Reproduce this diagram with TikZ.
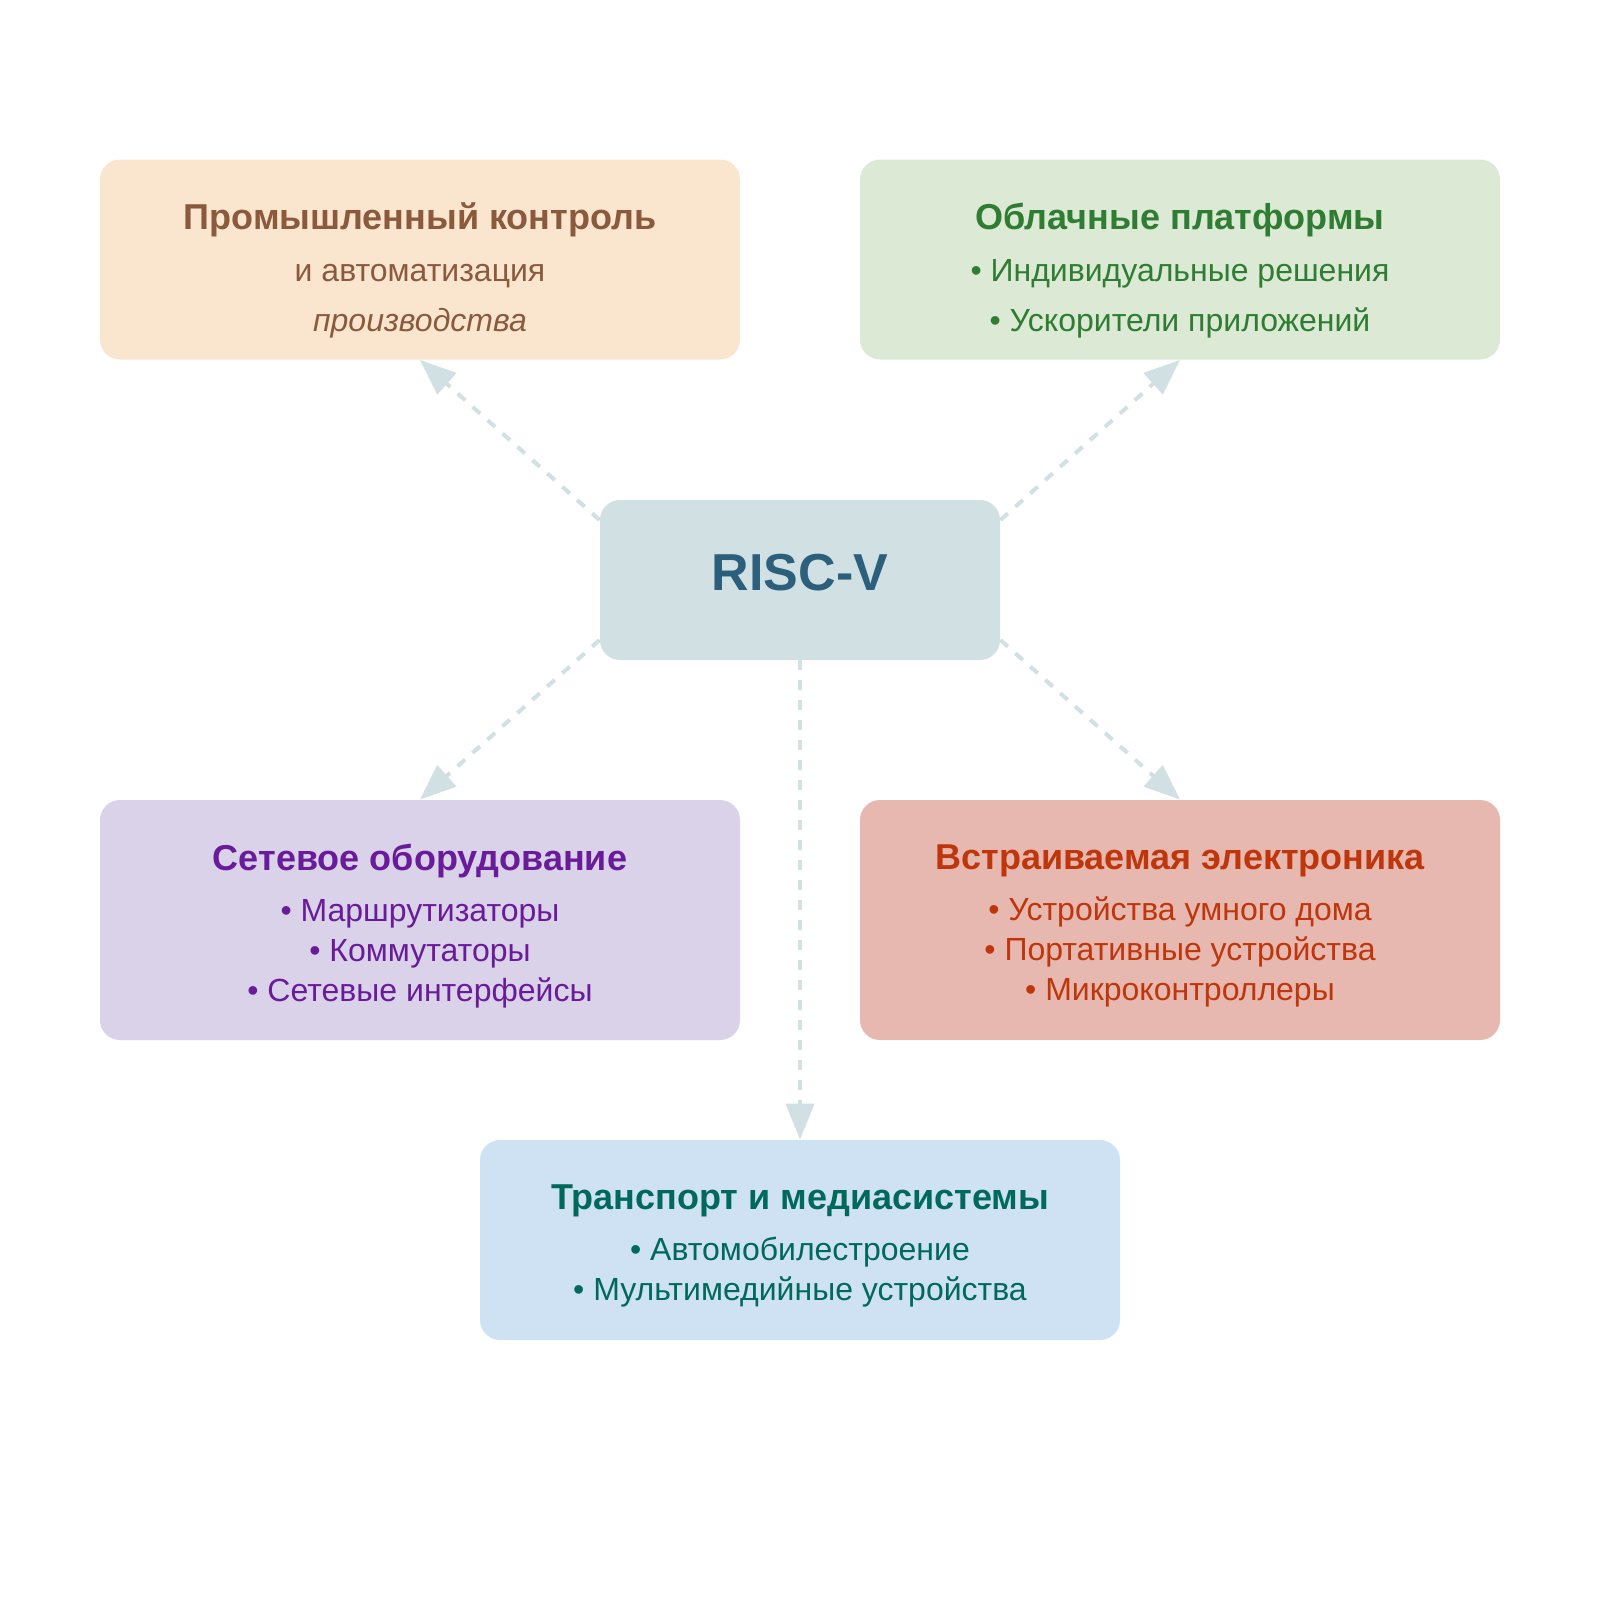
\documentclass[tikz,border=0pt]{standalone}
\usepackage{fontspec}
\setmainfont{Liberation Sans}
\usetikzlibrary{arrows.meta,calc}
\definecolor{peachfill}{HTML}{FAE5CF}
\definecolor{peachtext}{HTML}{8B5A3C}
\definecolor{greenfill}{HTML}{DCE9D5}
\definecolor{greentext}{HTML}{2E7D32}
\definecolor{corefill}{HTML}{D0E0E3}
\definecolor{coretext}{HTML}{2C5F7C}
\definecolor{purplefill}{HTML}{D9D2E9}
\definecolor{purpletext}{HTML}{6A1B9A}
\definecolor{redfill}{HTML}{E6B8AF}
\definecolor{redtext}{HTML}{BF360C}
\definecolor{bluefill}{HTML}{CFE2F3}
\definecolor{tealtext}{HTML}{00695C}
\definecolor{linkcol}{HTML}{D0E0E3}
\begin{document}
\begin{tikzpicture}[x=0.5pt,y=-0.5pt,
  box/.style={rounded corners=10pt, minimum width=320pt, minimum height=100pt,
    inner sep=0pt, draw=none},
  midbox/.style={box, minimum height=120pt},
  corebox/.style={box, minimum width=200pt, minimum height=80pt},
  toptext/.style={align=center, inner sep=0pt, font=\fontsize{16}{25}\selectfont},
  bodytext/.style={align=center, inner sep=0pt, font=\fontsize{16}{20}\selectfont},
  link/.style={draw=linkcol, line width=2pt, dash pattern=on 5pt off 5pt,
    -{Triangle[width=14pt,length=18pt]}}]
\useasboundingbox (0,0) rectangle (1600,1600);

\node[box, fill=peachfill] (ind) at (420,259.5) {};
\node[toptext, text=peachtext] (indtxt) at ($(ind)+(0,11)$)
  {{\fontsize{18}{22}\selectfont\bfseries Промышленный контроль}\\[1pt]
   и автоматизация\\ \textit{производства}};
\node[box, fill=greenfill] (cloud) at (1180,259.5) {};
\node[toptext, text=greentext] (cloudtxt) at ($(cloud)+(0,11)$)
  {{\fontsize{18}{22}\selectfont\bfseries Облачные платформы}\\[1pt]
   • Индивидуальные решения\\ • Ускорители приложений};
\node[corebox, fill=corefill, text=coretext, font=\fontsize{26}{30}\selectfont\bfseries,
  text height=18.6pt, text depth=8pt] (core) at (800,580) {RISC-V};
\node[midbox, fill=purplefill] (net) at (420,920) {};
\node[bodytext, text=purpletext] (nettxt) at ($(net)+(0,6)$)
  {{\fontsize{18}{22}\selectfont\bfseries Сетевое оборудование}\\[5.5pt]
   • Маршрутизаторы\\ • Коммутаторы\\ • Сетевые интерфейсы};
\node[midbox, fill=redfill] (emb) at (1180,920) {};
\node[bodytext, text=redtext] (embtxt) at ($(emb)+(0,6)$)
  {{\fontsize{18}{22}\selectfont\bfseries Встраиваемая электроника}\\[5.5pt]
   • Устройства умного дома\\ • Портативные устройства\\ • Микроконтроллеры};
\node[box, fill=bluefill] (trans) at (800,1240) {};
\node[bodytext, text=tealtext] (transtxt) at ($(trans)+(0,6)$)
  {{\fontsize{18}{22}\selectfont\bfseries Транспорт и медиасистемы}\\[5.5pt]
   • Автомобилестроение\\ • Мультимедийные устройства};

\draw[link] ($(core.west)+(0,-60)$) -- (ind.south);
\draw[link] ($(core.east)+(0,-60)$) -- (cloud.south);
\draw[link] ($(core.west)+(0,60)$) -- (net.north);
\draw[link] ($(core.east)+(0,60)$) -- (emb.north);
\draw[link] (core.south) -- (trans.north);
\end{tikzpicture}
\end{document}
